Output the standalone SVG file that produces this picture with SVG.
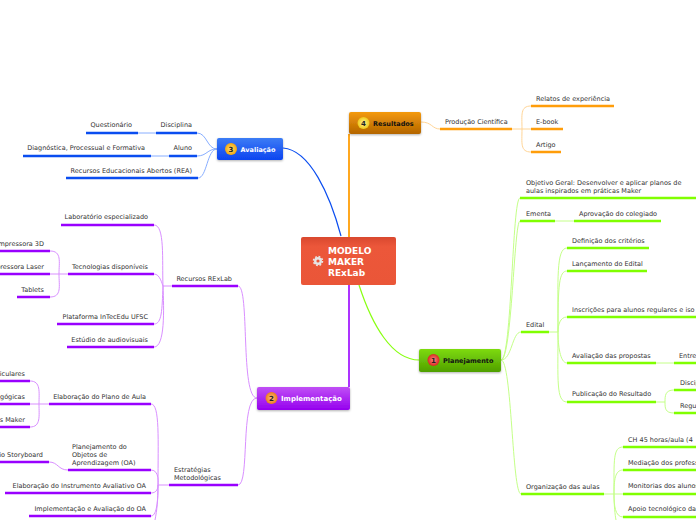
<svg xmlns="http://www.w3.org/2000/svg" width="696" height="520" viewBox="0 0 696 520">
<style>
text{font-family:"DejaVu Sans","Liberation Sans",sans-serif;font-size:6.5px;fill:#333}
.e{text-anchor:end}
.nt{font-weight:bold;font-size:6.5px}
.w{fill:#fff}.k{fill:#111}
.num{font-size:7px;font-weight:bold;text-anchor:middle;fill:#222}
.c{font-size:9px;font-weight:bold;fill:#fff}
path,line{fill:none}
.g{stroke:#80ff00;stroke-width:2.6}.gl{stroke:#c4ff88;stroke-width:1}
.p{stroke:#9900ff;stroke-width:2.6}.pl{stroke:#d98fff;stroke-width:1}
.b{stroke:#0a4df0;stroke-width:2.6}.bl{stroke:#88aeff;stroke-width:1}
.o{stroke:#ff9d0a;stroke-width:2.6}.ol{stroke:#ffd596;stroke-width:1}
</style>
<defs>
<linearGradient id="gc" x1="0" y1="0" x2="0" y2="1"><stop offset="0" stop-color="#d9482f"/><stop offset=".2" stop-color="#ec573a"/><stop offset="1" stop-color="#ea5638"/></linearGradient>
<linearGradient id="go" x1="0" y1="0" x2="0" y2="1"><stop offset="0" stop-color="#f49a0e"/><stop offset="1" stop-color="#b36500"/></linearGradient>
<linearGradient id="gb" x1="0" y1="0" x2="0" y2="1"><stop offset="0" stop-color="#3c7cf5"/><stop offset="1" stop-color="#0c44f0"/></linearGradient>
<linearGradient id="gp" x1="0" y1="0" x2="0" y2="1"><stop offset="0" stop-color="#c050f5"/><stop offset="1" stop-color="#9500ee"/></linearGradient>
<linearGradient id="gg" x1="0" y1="0" x2="0" y2="1"><stop offset="0" stop-color="#7edb10"/><stop offset="1" stop-color="#4f9f00"/></linearGradient>
<radialGradient id="i1"><stop offset="0" stop-color="#f88"/><stop offset="1" stop-color="#d9281e"/></radialGradient>
<radialGradient id="i2"><stop offset="0" stop-color="#fb8"/><stop offset="1" stop-color="#ec7d1a"/></radialGradient>
<radialGradient id="i3"><stop offset="0" stop-color="#ffe27a"/><stop offset="1" stop-color="#f2a50c"/></radialGradient>
<radialGradient id="i4"><stop offset="0" stop-color="#fff59a"/><stop offset="1" stop-color="#f0c818"/></radialGradient>
<filter id="sh" x="-10%" y="-10%" width="120%" height="130%"><feDropShadow dx="0" dy="1" stdDeviation="1" flood-color="#000" flood-opacity=".3"/></filter>
</defs>

<g id="connectors">
<path d="M349 237V134" stroke="#ffa820" stroke-width="2"/>
<path d="M349 285V387" stroke="#9900ff" stroke-width="1.6"/>
<path d="M341 236C330 195 310 150 283 148" stroke="#0a4df0" stroke-width="1.2"/>
<path d="M359 285C372 325 392 360 419 360" stroke="#88ff11" stroke-width="1.2"/>
<path class="ol" d="M421 122C432 122 432 129 440 129"/>
<path class="ol" d="M512 129H531M531 106C520 106 522 115 522 129C522 143 520 152 531 152"/>
<path class="o" d="M440 129H512M531 106H614M531 129H563M531 152H561"/>
<path class="bl" d="M217 149C207 149 207 133 197 133M217 149C207 149 207 156 197 156M217 149C207 149 207 178 198 178M138 133H156M151 156H169"/>
<path class="b" d="M86 133H138M156 133H197M23 156H151M169 156H197M66 178H198"/>
<path class="pl" d="M257 398C240 398 250 286 238 286M257 398C240 398 250 485 238 485"/>
<path class="pl" d="M172 286H163M154 225C165 225 162 260 163 286C164 310 165 347 154 347M154 274C160 274 162 284 163 286M154 324C162 324 162 310 163 286"/>
<path class="pl" d="M68 274H50M50 251C62 251 59 262 59 274C59 286 62 297 50 297"/>
<path class="pl" d="M169 485H158M151 404C160 404 158 440 158 485C158 500 157 510 155 520M151 470C160 470 158 485 158 485M151 493C157 493 158 488 158 485M151 516C156 516 158 505 158 485"/>
<path class="pl" d="M49 404H30M30 381C41 381 39 392 39 404C39 416 41 427 30 427M49 462C58 462 58 470 68 470"/>
<path class="p" d="M61 225H154M0 251H50M68 274H154M0 274H50M17 297H50M172 286H238M57 324H154M67 347H154M0 381H30M49 404H151M0 404H30M0 427H30M0 462H49M68 470H151M5 493H151M29 516H151M169 485H238"/>
<path class="gl" d="M501 360C512 360 512 198 520 198M501 360C512 360 514 221 520 221M501 360C512 360 512 332 521 332M501 360C512 360 512 494 521 494M555 221H574"/>
<path class="gl" d="M549 332H558M567 248C556 248 558 280 558 332C558 380 556 402 567 402M567 271C559 271 558 285 558 332M567 317C560 317 558 325 558 332M567 363C560 363 558 345 558 332"/>
<path class="gl" d="M656 363H674M656 402H665M674 390C665 390 665 396 665 402C665 408 665 413 674 413M604 494H614M623 447C613 447 614 460 614 494C614 505 615 515 616 520M623 470C615 470 614 480 614 494M623 517C615 517 614 505 614 494M614 494H623"/>
<path class="g" d="M520 198H696M520 221H555M574 221H661M521 332H549M567 248H649M567 271H647M567 317H696M567 363H656M674 363H696M567 402H656M674 390H696M674 413H696M521 494H604M623 447H696M623 470H696M623 494H696M623 517H696"/>
</g>

<g id="center"><rect x="301" y="237" width="95" height="48" rx="2" fill="url(#gc)"/>
<circle cx="318" cy="261" r="2.800" fill="none" stroke="#e6e6e6" stroke-width="2.400"/><circle cx="318" cy="261" r="4.500" fill="none" stroke="#e6e6e6" stroke-width="1.500" stroke-dasharray="1.800 1.730"/>
<text class="c" x="328" y="254">MODELO</text>
<text class="c" x="328" y="265">MAKER</text>
<text class="c" x="328" y="276">RExLab</text></g>

<g id="n4"><rect x="349" y="112" width="72" height="22" rx="2" fill="url(#go)" filter="url(#sh)"/><circle cx="363.500" cy="123" r="6" fill="url(#i4)"/><text class="num" x="363.500" y="125.500">4</text><text class="nt k" x="373" y="126">Resultados</text></g>
<g id="n3"><rect x="217" y="138" width="66" height="22" rx="2" fill="url(#gb)" filter="url(#sh)"/><circle cx="231" cy="149" r="6" fill="url(#i3)"/><text class="num" x="231" y="151.500">3</text><text class="nt w" x="240.500" y="152">Avaliação</text></g>
<g id="n1"><rect x="419" y="349" width="82" height="23" rx="2" fill="url(#gg)" filter="url(#sh)"/><circle cx="433.500" cy="360" r="6" fill="url(#i1)"/><text class="num" x="433.500" y="362.500">1</text><text class="nt k" x="443" y="363">Planejamento</text></g>
<g id="n2"><rect x="257" y="387" width="93" height="23" rx="2" fill="url(#gp)" filter="url(#sh)"/><circle cx="271.500" cy="398" r="6" fill="url(#i2)"/><text class="num" x="271.500" y="400.500">2</text><text class="nt w" x="281" y="401" style="font-size:7px">Implementação</text></g>

<g id="labels-resultados">
<text x="445" y="124">Produção Científica</text><text x="536" y="101">Relatos de experiência</text><text x="536" y="124">E-book</text><text x="536" y="147">Artigo</text>
</g>
<g id="labels-avaliacao">
<text class="e" x="132" y="127">Questionário</text><text class="e" x="192" y="127">Disciplina</text><text class="e" x="145" y="150">Diagnóstica, Processual e Formativa</text><text class="e" x="192" y="150">Aluno</text><text class="e" x="192" y="173">Recursos Educacionais Abertos (REA)</text>
</g>
<g id="labels-implementacao">
<text class="e" x="148" y="219">Laboratório especializado</text><text class="e" x="44" y="246">Impressora 3D</text><text class="e" x="148" y="269">Tecnologias disponíveis</text><text class="e" x="44" y="269">Impressora Laser</text><text class="e" x="44" y="292">Tablets</text><text class="e" x="232" y="281">Recursos RExLab</text><text class="e" x="148" y="319">Plataforma InTecEdu UFSC</text><text class="e" x="148" y="342">Estúdio de audiovisuais</text>
<text class="e" x="25" y="376">iculares</text><text class="e" x="25" y="399">gógicas</text><text class="e" x="25" y="422">s Maker</text><text class="e" x="146" y="399">Elaboração do Plano de Aula</text><text class="e" x="43" y="457">io Storyboard</text>
<text x="72" y="449">Planejamento do</text><text x="72" y="457">Objetos de</text><text x="72" y="465">Aprendizagem (OA)</text>
<text class="e" x="146" y="488">Elaboração do Instrumento Avaliativo  OA</text><text class="e" x="146" y="511">Implementação e Avaliação do OA</text>
<text x="174" y="471.500">Estratégias</text><text x="174" y="479.500">Metodológicas</text>
</g>
<g id="labels-planejamento">
<text x="526" y="185">Objetivo Geral: Desenvolver e aplicar planos de</text><text x="526" y="193">aulas inspirados em práticas Maker</text>
<text x="526" y="216">Ementa</text><text x="579" y="216">Aprovação do colegiado</text><text x="526" y="327">Edital</text>
<text x="572" y="243">Definição dos critérios</text><text x="572" y="266">Lançamento do Edital</text><text x="572" y="312">Inscrições para alunos regulares e iso</text><text x="572" y="358">Avaliação das propostas</text><text x="679" y="358">Entre</text><text x="572" y="396">Publicação do Resultado</text><text x="680" y="385">Discip</text><text x="680" y="408">Regu</text>
<text x="526" y="489">Organização das aulas</text><text x="628" y="442">CH 45 horas/aula  (4</text><text x="628" y="465">Mediação dos profess</text><text x="628" y="488">Monitorias dos alunos</text><text x="628" y="511">Apoio tecnológico da</text>
</g>
</svg>
